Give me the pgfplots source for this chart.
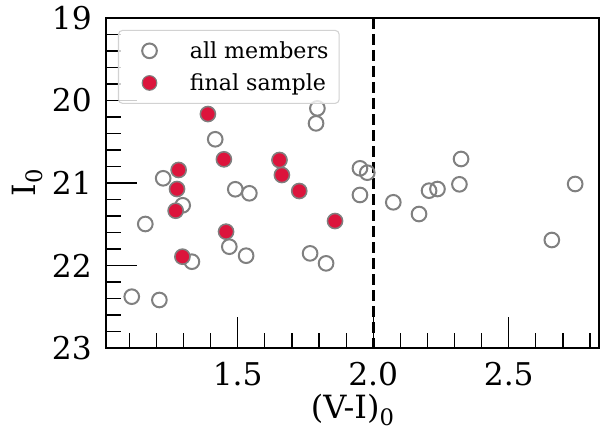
\documentclass[border=0pt]{standalone}
\usepackage{pgfplots}
\pgfplotsset{compat=1.18}
\usepackage{fontspec}
\setmainfont{DejaVu Serif}
\definecolor{crim}{RGB}{220,20,60}
\definecolor{mgray}{RGB}{128,128,128}
\begin{document}
\begin{tikzpicture}
\useasboundingbox (-79.5pt,-64.5pt) rectangle (370.5pt,261pt);
\begin{axis}[
  scale only axis,
  width=369.75pt, height=247.5pt,
  xmin=1.014, xmax=2.833, ymin=19, ymax=23,
  y dir=reverse,
  axis line style={line width=1.2pt},
  xtick={1.5,2.0,2.5}, xticklabels={1.5,2.0,2.5},
  ytick={19,20,21,22,23},
  minor xtick={1.1,1.2,1.3,1.4,1.6,1.7,1.8,1.9,2.1,2.2,2.3,2.4,2.6,2.7,2.8},
  minor ytick={19.2,19.4,19.6,19.8,20.2,20.4,20.6,20.8,21.2,21.4,21.6,21.8,22.2,22.4,22.6,22.8},
  tick align=inside, tick pos=left,
  major tick length=23pt, minor tick length=11pt,
  every tick/.style={black, line width=0.9pt},
  /pgf/number format/assume math mode=true,
  ticklabel style={font=\fontsize{23.5}{24}\selectfont, inner sep=0pt},
  yticklabel style={anchor=east, xshift=-10.5pt},
  xticklabel style={anchor=north, yshift=-10.3pt},
  xlabel={(V-I)\raisebox{-0.22em}{\fontsize{17}{17}\selectfont 0}},
  ylabel={I\raisebox{-0.22em}{\fontsize{17}{17}\selectfont 0}},
  label style={font=\fontsize{24}{25}\selectfont},
  xlabel style={at={(axis description cs:0.5,-0.215)}, anchor=base},
  ylabel style={at={(axis description cs:-0.1433,0.5)}, anchor=base},
  legend style={at={(axis description cs:0.0243,0.964)}, anchor=north west,
    draw=gray!35, line width=0.8pt, rounded corners=3pt, fill=white, fill opacity=0.8, text opacity=1,
    font=\fontsize{16.6}{18}\selectfont, inner xsep=6pt, inner ysep=6.25pt,
    row sep=6pt, column sep=0pt},
  legend cell align=left,
  legend image code/.code={%
    \path[draw=none, fill=none] (0pt,0pt) -- (45.5pt,0pt);
    \draw[fill opacity=1, draw opacity=1, #1] plot coordinates {(17.25pt,0pt)};},
]
\addplot[black, line width=2pt, dash pattern=on 8.5pt off 3.5pt, forget plot] coordinates {(2.0,19) (2.0,23)};
\addplot[only marks, mark=*, mark size=5.5pt, mark options={draw=mgray, fill=white, fill opacity=0, line width=1.5pt}] coordinates {
(1.417,20.470)
(1.225,20.943)
(1.491,21.076)
(1.543,21.125)
(1.297,21.270)
(1.159,21.497)
(1.331,21.954)
(1.109,22.378)
(1.211,22.418)
(1.469,21.772)
(1.531,21.881)
(1.767,21.853)
(1.826,21.974)
(1.794,20.095)
(1.789,20.277)
(1.951,20.822)
(1.978,20.875)
(1.951,21.145)
(2.074,21.234)
(2.169,21.376)
(2.206,21.093)
(2.237,21.073)
(2.318,21.016)
(2.324,20.709)
(2.659,21.691)
(2.745,21.012)
(1.390,20.164)
(1.449,20.713)
(1.282,20.842)
(1.276,21.073)
(1.271,21.336)
(1.296,21.893)
(1.457,21.590)
(1.654,20.721)
(1.663,20.903)
(1.727,21.097)
(1.859,21.461)
};
\addlegendentry{all members}
\addplot[only marks, mark=*, mark size=5.5pt, mark options={draw=mgray, fill=crim, line width=0.8pt}] coordinates {
(1.390,20.164)
(1.449,20.713)
(1.282,20.842)
(1.276,21.073)
(1.271,21.336)
(1.296,21.893)
(1.457,21.590)
(1.654,20.721)
(1.663,20.903)
(1.727,21.097)
(1.859,21.461)
};
\addlegendentry{final sample}
\end{axis}
\end{tikzpicture}
\end{document}
